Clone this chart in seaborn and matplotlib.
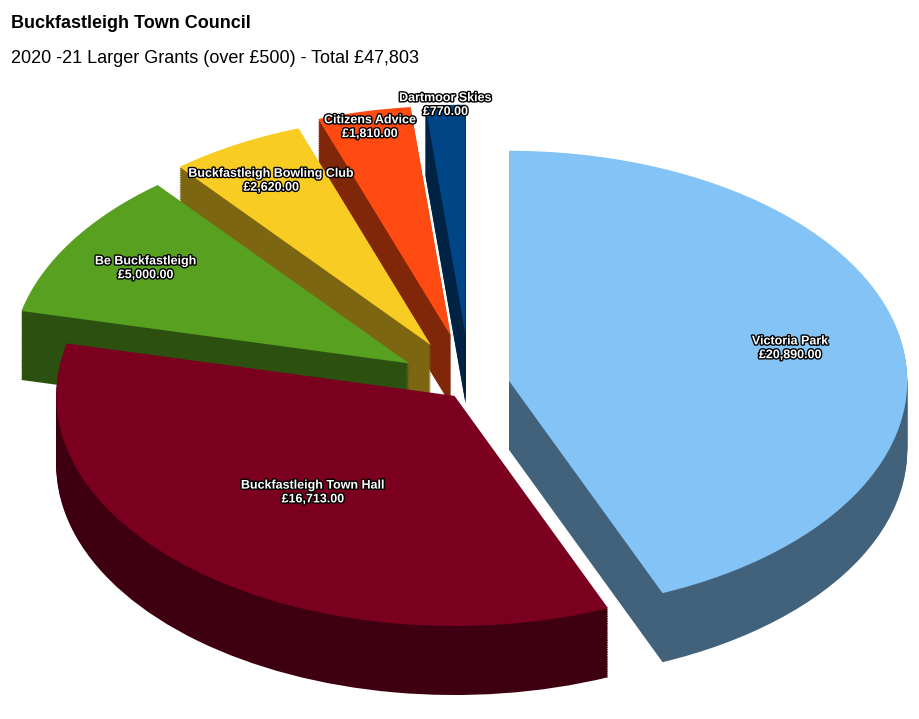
import matplotlib
matplotlib.use("Agg")
import matplotlib.pyplot as plt
import matplotlib.patheffects as pe
import seaborn as sns
import numpy as np

sns.set_style("white")
plt.rcParams['font.family'] = ['Liberation Sans', 'DejaVu Sans']

categories = ["Victoria Park", "Buckfastleigh Town Hall", "Be Buckfastleigh",
              "Buckfastleigh Bowling Club", "Citizens Advice", "Dartmoor Skies"]
values = [20890, 16713, 5000, 2620, 1810, 770]
colors = ["#83C3F5", "#7B0020", "#58A01F", "#F8CC23", "#FF4B12", "#004586"]
explode = [0.1, 0.06, 0.18, 0.2, 0.22, 0.22]

fig = plt.figure(figsize=(9.2, 7.19), dpi=100)
fig.text(0.012, 0.968, "Buckfastleigh Town Council", fontsize=13, fontweight="bold",
         va="center", color="black")
fig.text(0.012, 0.918, "2020 -21 Larger Grants (over £500) - Total £47,803", fontsize=13,
         va="center", color="black")

ax = fig.add_axes([0.0, 0.0, 1.0, 0.88])
depth = 0.3
nlayers = 40
wp = dict(linewidth=0, antialiased=True)
shade = [tuple(np.array(matplotlib.colors.to_rgb(c)) * 0.5) for c in colors]
for i in range(nlayers, 0, -1):
    d = depth * i / nlayers
    ax.pie(values, colors=shade, startangle=90, counterclock=False,
           explode=explode, center=(0, -d), radius=1.0, frame=False, wedgeprops=wp)
wedges, _ = ax.pie(values, colors=colors, startangle=90, counterclock=False,
                   explode=explode, center=(0, 0), radius=1.0, frame=False, wedgeprops=wp)

total = sum(values)
ang = 90
label_r = [0.72, 0.55, 0.78, 0.82, 0.93, 1.0]
for v, name, ex, lr in zip(values, categories, explode, label_r):
    mid = np.deg2rad(ang - v / total * 180)
    ang -= v / total * 360
    r = lr + ex
    ax.text(r * np.cos(mid), r * np.sin(mid), f"{name}\n£{v:,.2f}",
            ha="center", va="center", color="white", fontsize=9, fontweight="bold",
            path_effects=[pe.withStroke(linewidth=2, foreground="black")])

ax.set_aspect('auto')
ax.set_xlim(-1.18, 1.13)
ax.set_ylim(-1.45, 1.3)
fig.savefig("out.png", dpi=100)
